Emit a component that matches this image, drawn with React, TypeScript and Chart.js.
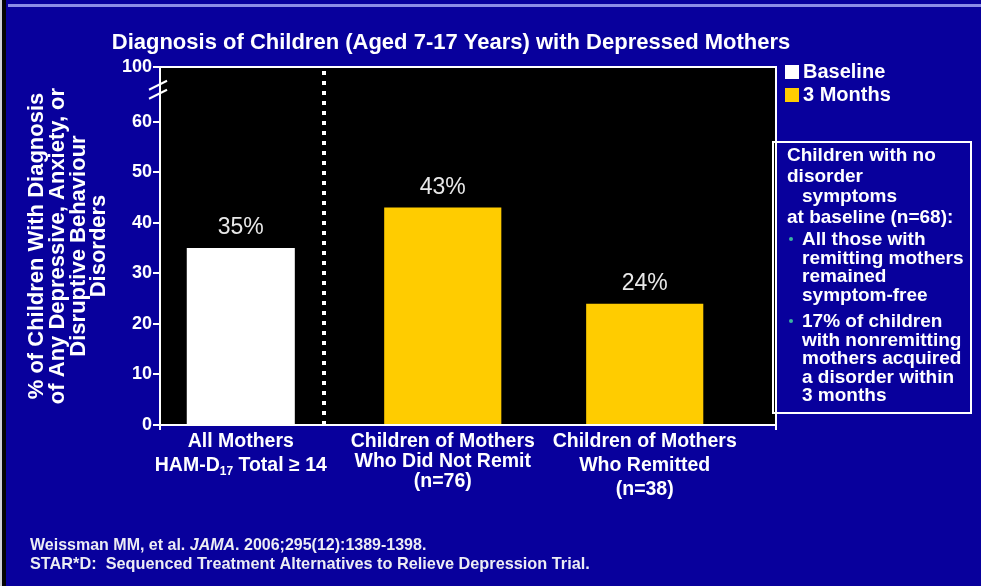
import { useEffect, useRef } from "react";
import { Chart, registerables } from "chart.js";

Chart.register(...registerables);

// ---- content ----
const TITLE = "Diagnosis of Children (Aged 7-17 Years) with Depressed Mothers";
const Y_TITLE = [
  "% of Children With Diagnosis",
  "of Any Depressive, Anxiety, or",
  "Disruptive Behaviour",
  "Disorders",
];
// `_{..}` marks a subscript
const CATEGORIES = [
  ["All Mothers", "HAM-D_{17} Total ≥ 14"],
  ["Children of Mothers", "Who Did Not Remit", "(n=76)"],
  ["Children of Mothers", "Who Remitted", "(n=38)"],
];
const SERIES_NAMES = ["Baseline", "3 Months"];
const BASELINE = [35, null, null];
const MONTHS_3 = [null, 43, 24];
const Y_TICKS = [0, 10, 20, 30, 40, 50, 60];
const Y_BREAK_TOP = 70.8; // top of the broken axis
const Y_TOP_LABEL = "100";
const AXIS_BREAK_AT = 66.3;
const DIVIDER_AT = 0.41;
const NOTE_HEADING = ["Children with no", "disorder", "  symptoms", "at baseline (n=68):"];
const NOTE_BULLETS = [
  ["All those with", "remitting mothers", "remained", "symptom-free"],
  ["17% of children", "with nonremitting", "mothers acquired", "a disorder within", "3 months"],
];
const FOOTNOTE_1 = ["Weissman MM, et al. ", "JAMA", ". 2006;295(12):1389-1398."];
const FOOTNOTE_2 = "STAR*D:  Sequenced Treatment Alternatives to Relieve Depression Trial.";

// ---- style ----
const FONT = "'Liberation Sans', Arial, Helvetica, sans-serif";
const BG = "#08009c";
const WHITE = "#ffffff";
const YELLOW = "#ffcc00";
const TEAL = "#3bb3a0";
const CAT_LINE_GAP = [24, 20, 24];

const toPoints = (arr: (number | null)[]) =>
  arr
    .map((v, i) => (v == null ? null : { x: i, y: v }))
    .filter((p) => p !== null) as { x: number; y: number }[];

function drawRich(ctx: CanvasRenderingContext2D, line: string, cx: number, cy: number, size: number) {
  const parts = line.split(/_\{([^}]*)\}/);
  const segs = parts.map((t, i) => ({ t, sub: i % 2 === 1 }));
  const fontFor = (sub: boolean) => `bold ${sub ? Math.round(size * 0.62) : size}px ${FONT}`;
  let total = 0;
  for (const s of segs) {
    ctx.font = fontFor(s.sub);
    total += ctx.measureText(s.t).width;
  }
  let xPos = cx - total / 2;
  ctx.textAlign = "left";
  for (const s of segs) {
    ctx.font = fontFor(s.sub);
    ctx.fillText(s.t, xPos, s.sub ? cy + size * 0.3 : cy);
    xPos += ctx.measureText(s.t).width;
  }
}

const slidePlugin = {
  id: "slideDecor",
  beforeDraw(chart: any) {
    const { ctx, width, height, chartArea: a } = chart;
    ctx.save();
    ctx.fillStyle = BG;
    ctx.fillRect(0, 0, width, height);
    ctx.fillStyle = "#8c8ce6";
    ctx.fillRect(8, 4, width - 8, 3);
    ctx.fillStyle = "#cfcfd8";
    ctx.fillRect(0, 0, 2, height);
    ctx.fillStyle = "#050505";
    ctx.fillRect(2, 0, 4, height);
    ctx.fillStyle = "#000000";
    ctx.fillRect(a.left, a.top, a.right - a.left, a.bottom - a.top);
    ctx.restore();
  },
  afterDatasetsDraw(chart: any) {
    const { ctx, chartArea: a, scales } = chart;
    const x = scales.x;
    const y = scales.y;
    ctx.save();
    ctx.strokeStyle = WHITE;

    // dotted divider between the overall group and the subgroups
    const dx = Math.round(x.getPixelForValue(DIVIDER_AT));
    ctx.lineWidth = 4;
    ctx.setLineDash([4, 6]);
    ctx.beginPath();
    ctx.moveTo(dx, a.top + 4);
    ctx.lineTo(dx, a.bottom);
    ctx.stroke();
    ctx.setLineDash([]);

    // top and right frame of the plot box
    ctx.lineWidth = 2;
    ctx.beginPath();
    ctx.moveTo(a.left, a.top);
    ctx.lineTo(a.right, a.top);
    ctx.lineTo(a.right, a.bottom + 5);
    ctx.stroke();
    ctx.beginPath();
    ctx.moveTo(a.left, a.bottom);
    ctx.lineTo(a.left, a.bottom + 5);
    ctx.stroke();

    // axis break marks
    const by = y.getPixelForValue(AXIS_BREAK_AT);
    for (const off of [-4.5, 4.5]) {
      ctx.beginPath();
      ctx.moveTo(a.left - 11, by + off + 4.5);
      ctx.lineTo(a.left + 7, by + off - 4.5);
      ctx.stroke();
    }

    // value labels
    ctx.fillStyle = "#e8e8e8";
    ctx.font = `23px ${FONT}`;
    ctx.textAlign = "center";
    ctx.textBaseline = "middle";
    chart.data.datasets.forEach((ds: any, di: number) => {
      const meta = chart.getDatasetMeta(di);
      meta.data.forEach((el: any, i: number) => {
        const v = ds.data[i].y;
        ctx.fillText(`${v}%`, el.x, el.y - 20);
      });
    });
    ctx.restore();
  },
  afterDraw(chart: any) {
    const { ctx, chartArea: a, scales } = chart;
    const x = scales.x;
    ctx.save();
    ctx.fillStyle = WHITE;
    ctx.textBaseline = "middle";

    // title
    ctx.font = `bold 22px ${FONT}`;
    ctx.textAlign = "center";
    ctx.fillText(TITLE, 451, 43);

    // category labels
    CATEGORIES.forEach((lines, i) => {
      const cx = x.getPixelForValue(i);
      lines.forEach((line, j) => {
        drawRich(ctx, line, cx, a.bottom + 17 + j * CAT_LINE_GAP[i], 19.5);
      });
    });

    // legend
    const lx = a.right + 9;
    chart.data.datasets.forEach((ds: any, di: number) => {
      const cy = 72 + di * 23;
      ctx.fillStyle = ds.backgroundColor;
      ctx.fillRect(lx, cy - 7, 14, 14);
      ctx.fillStyle = WHITE;
      ctx.font = `bold 20px ${FONT}`;
      ctx.textAlign = "left";
      ctx.fillText(ds.label, lx + 18, cy);
    });

    // note box
    const bx = a.right - 3;
    ctx.strokeStyle = WHITE;
    ctx.lineWidth = 2;
    ctx.strokeRect(bx, 142, 198, 271);
    ctx.font = `bold 19px ${FONT}`;
    ctx.textAlign = "left";
    let ty = 156;
    NOTE_HEADING.forEach((line) => {
      const indent = line.startsWith("  ") ? 15 : 0;
      ctx.fillText(line.trim(), bx + 14 + indent, ty);
      ty += 20.5;
    });
    ty = 240;
    NOTE_BULLETS.forEach((group) => {
      ctx.fillStyle = TEAL;
      ctx.beginPath();
      ctx.arc(bx + 18, ty - 1, 2, 0, Math.PI * 2);
      ctx.fill();
      ctx.fillStyle = WHITE;
      group.forEach((line) => {
        ctx.fillText(line, bx + 29, ty);
        ty += 18.5;
      });
      ty += 8;
    });

    // footnotes
    ctx.fillStyle = "#ececf4";
    let fx = 30;
    FOOTNOTE_1.forEach((t, i) => {
      ctx.font = `${i === 1 ? "italic " : ""}bold 16px ${FONT}`;
      ctx.fillText(t, fx, 546);
      fx += ctx.measureText(t).width;
    });
    ctx.font = `bold 16.3px ${FONT}`;
    ctx.fillText(FOOTNOTE_2, 30, 565);
    ctx.restore();
  },
};

export default function App() {
  const ref = useRef<HTMLCanvasElement>(null);

  useEffect(() => {
    const canvas = ref.current;
    if (!canvas) return;
    const chart = new Chart(canvas, {
      type: "bar",
      data: {
        datasets: [
          { label: SERIES_NAMES[0], data: toPoints(BASELINE), backgroundColor: WHITE, barPercentage: 0.535 },
          { label: SERIES_NAMES[1], data: toPoints(MONTHS_3), backgroundColor: YELLOW, barPercentage: 0.58 },
        ],
      },
      options: {
        responsive: false,
        animation: false,
        devicePixelRatio: 1,
        grouped: false,
        categoryPercentage: 1,
        layout: { padding: { left: 0, right: 205, top: 67, bottom: 0 } },
        plugins: {
          legend: { display: false },
          title: { display: false },
          tooltip: { enabled: false },
        },
        scales: {
          x: {
            type: "linear",
            offset: false,
            min: -0.4,
            max: 2.65,
            afterBuildTicks: (s: any) => {
              s.ticks = CATEGORIES.map((_, i) => ({ value: i }));
            },
            afterFit: (s: any) => {
              s.height = 161;
            },
            ticks: { display: false },
            grid: { display: false },
            border: { color: WHITE, width: 2 },
          },
          y: {
            type: "linear",
            min: 0,
            max: Y_BREAK_TOP,
            afterBuildTicks: (s: any) => {
              s.ticks = [...Y_TICKS, Y_BREAK_TOP].map((v) => ({ value: v }));
            },
            afterFit: (s: any) => {
              s.width = 160;
            },
            ticks: {
              color: WHITE,
              autoSkip: false,
              padding: 1,
              font: { family: FONT, size: 18, weight: "bold" },
              callback: (v: any) => (v === Y_BREAK_TOP ? Y_TOP_LABEL : String(v)),
            },
            grid: { drawOnChartArea: false, color: WHITE, lineWidth: 2, tickLength: 7 },
            border: { color: WHITE, width: 2 },
            title: {
              display: true,
              text: Y_TITLE,
              color: WHITE,
              font: { family: FONT, size: 22, weight: "bold", lineHeight: 0.94 },
              padding: { top: 27, bottom: 0 },
            },
          },
        },
      } as any,
      plugins: [slidePlugin],
    });
    return () => chart.destroy();
  }, []);

  return (
    <div style={{ position: "fixed", left: 0, top: 0, width: 981, height: 586, background: BG }}>
      <canvas ref={ref} width={981} height={586} style={{ display: "block" }} />
    </div>
  );
}
